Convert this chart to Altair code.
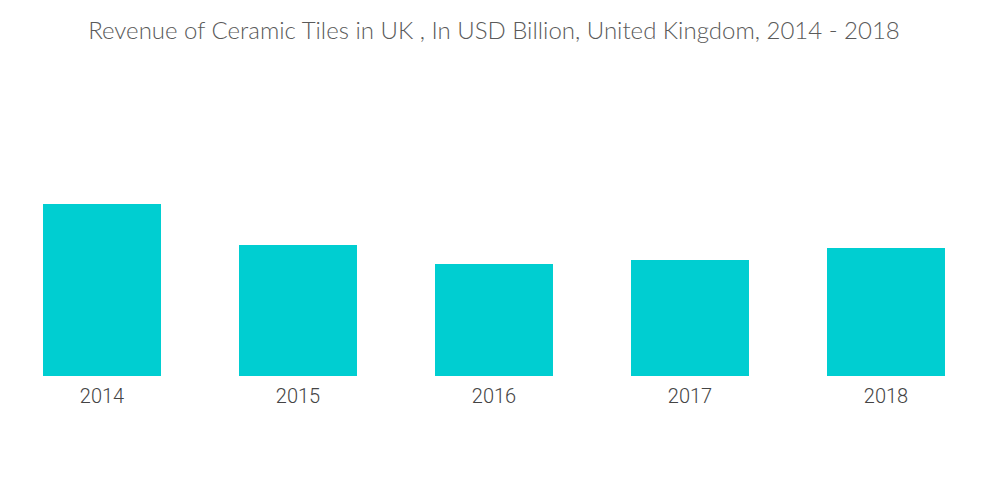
import altair as alt
import pandas as pd

years = ["2014", "2015", "2016", "2017", "2018"]
revenue = [1.72, 1.31, 1.12, 1.16, 1.28]

df = pd.DataFrame({"year": years, "revenue": revenue})

chart = alt.Chart(df).mark_bar(color="#00CED1").encode(
    x=alt.X("year:N", sort=years,
            scale=alt.Scale(paddingInner=0.398, paddingOuter=0.1786),
            axis=alt.Axis(title=None, labelAngle=0, domain=False, ticks=False,
                          labelFont="Roboto", labelFontSize=20, labelFontWeight=300,
                          labelColor="#444444", labelPadding=10)),
    y=alt.Y("revenue:Q", scale=alt.Scale(domain=[0, 3]), axis=None),
).properties(
    width=972,
    height=300,
    padding={"left": 0, "right": 0, "top": 12, "bottom": 0},
    title=alt.TitleParams(
        "Revenue of Ceramic Tiles in UK , In USD Billion, United Kingdom, 2014 - 2018",
        font="Lato", fontSize=24, fontWeight=300, color="#5a5a5a",
        anchor="middle", offset=32,
    ),
).configure_view(stroke=None)

chart.save("out.html", embed_options={"renderer": "svg", "actions": False})
